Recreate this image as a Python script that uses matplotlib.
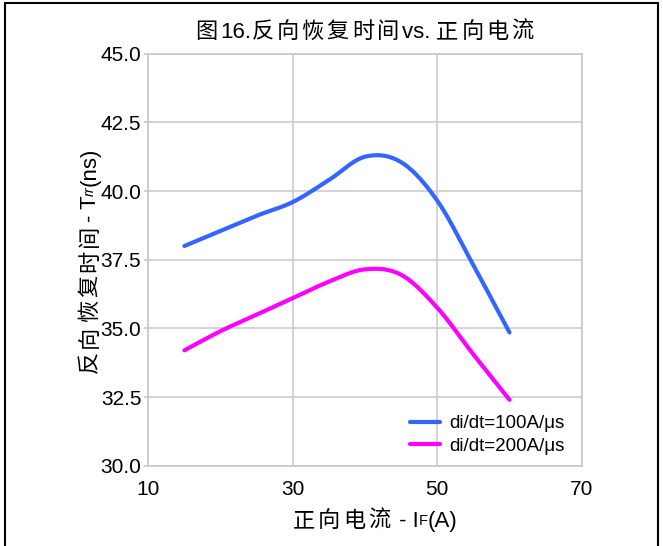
import matplotlib
matplotlib.use("Agg")
import matplotlib.pyplot as plt
import numpy as np
from matplotlib.patches import Rectangle
from matplotlib.transforms import IdentityTransform

plt.rcParams['font.family'] = ['Liberation Sans', 'Noto Sans CJK SC']

# forward current (A)
current = [15, 20, 25, 30, 35, 40, 45, 50, 55, 60]
# reverse recovery time (ns) for each di/dt
trr_100 = [38.0, 38.55, 39.1, 39.6, 40.4, 41.25, 41.05, 39.65, 37.3, 34.85]
trr_200 = [34.2, 34.9, 35.5, 36.1, 36.7, 37.15, 36.95, 35.75, 34.05, 32.4]
labels = ['di/dt=100A/μs', 'di/dt=200A/μs']
colors = ['#3366FF', '#FF00FF']

x_ticks = [10, 30, 50, 70]
y_ticks = [30.0, 32.5, 35.0, 37.5, 40.0, 42.5, 45.0]


def smooth(xs, ys, n=30):
    # catmull-rom spline through the points, like a smoothed line in a spreadsheet
    p = np.column_stack([xs, ys]).astype(float)
    p = np.vstack([p[0], p, p[-1]])
    out = []
    t = np.linspace(0, 1, n)[:, None]
    for i in range(1, len(p) - 2):
        p0, p1, p2, p3 = p[i - 1], p[i], p[i + 1], p[i + 2]
        seg = 0.5 * ((2 * p1) + (-p0 + p2) * t + (2 * p0 - 5 * p1 + 4 * p2 - p3) * t ** 2
                     + (-p0 + 3 * p1 - 3 * p2 + p3) * t ** 3)
        out.append(seg if i == 1 else seg[1:])
    out = np.vstack(out)
    return out[:, 0], out[:, 1]


def split_cjk(s, size, gap):
    # one piece per CJK character (with a little tracking), latin runs kept whole
    pieces, run = [], ''
    for ch in s:
        if ord(ch) > 0x2E80:
            if run:
                pieces.append((run, size, 0, 'normal', 0))
                run = ''
            pieces.append((ch, size, 0, 'normal', gap))
        else:
            run += ch
    if run:
        pieces.append((run, size, 0, 'normal', 0))
    return pieces


def rich_label(fig, parts, center, baseline, vertical=False):
    # lay out text pieces (text, size, baseline shift, style, gap) one after
    # another, so subscripts and CJK text can be mixed
    renderer = fig.canvas.get_renderer()
    rot = 90 if vertical else 0
    texts = []
    for s, size, shift, style, gap in parts:
        t = fig.text(0, 0, s, fontsize=size, style=style, rotation=rot,
                     rotation_mode='anchor', ha='left', va='baseline',
                     transform=IdentityTransform())
        texts.append((t, shift, gap))
    widths = []
    for t, _, gap in texts:
        bb = t.get_window_extent(renderer)
        widths.append((bb.height if vertical else bb.width) + gap)
    pos = center - sum(widths) / 2
    for (t, shift, gap), w in zip(texts, widths):
        if vertical:
            t.set_position((baseline + shift, pos))
        else:
            t.set_position((pos, baseline - shift))
        pos += w


fig = plt.figure(figsize=(6.63, 5.46), dpi=100)
ax = fig.add_axes([0.2237, 0.1471, 0.6537, 0.7545])

for ys, lab, c in zip([trr_100, trr_200], labels, colors):
    sx, sy = smooth(current, ys)
    ax.plot(sx, sy, color=c, lw=3, solid_capstyle='round', label=lab)

ax.set_xlim(10, 70)
ax.set_ylim(30, 45)
ax.set_xticks(x_ticks)
ax.set_yticks(y_ticks)
ax.set_yticklabels([f'{v:.1f}' for v in y_ticks])
ax.grid(True, color='#CCCCCC', lw=1.2)
ax.set_axisbelow(True)
for s in ax.spines.values():
    s.set_color('#C8C8C8')
    s.set_linewidth(1.2)
ax.tick_params(axis='both', labelsize=15, color='#C8C8C8', length=3, width=1.2, pad=2)
ax.tick_params(axis='x', length=0, pad=10)

ax.legend(loc='lower right', frameon=False, fontsize=13.5, handlelength=1.6,
          handletextpad=0.5, labelspacing=0.3, bbox_to_anchor=(1.0, -0.015))

fig.canvas.draw()
gap = 2.8
rich_label(fig, split_cjk('图16.反向恢复时间vs. 正向电流', 16, gap),
           center=366, baseline=508)
rich_label(fig, split_cjk('正向电流 - I', 16, gap)
           + [('F', 10.5, -2, 'normal', 0), ('(A)', 16, 0, 'normal', 0)],
           center=375, baseline=19)
rich_label(fig, split_cjk('反向恢复时间- T', 16, gap)
           + [('rr', 10.5, -2, 'italic', 0), ('(ns)', 16, 0, 'normal', 0)],
           center=260 + 26, baseline=96, vertical=True)

# outer frame, open at the bottom
fig.patches.append(Rectangle((4.5 / 663, -0.1), 653.5 / 663, 1.1 - 2.5 / 546,
                             transform=fig.transFigure, fill=False,
                             edgecolor='black', lw=1.5))

fig.savefig('out.png', dpi=100)
